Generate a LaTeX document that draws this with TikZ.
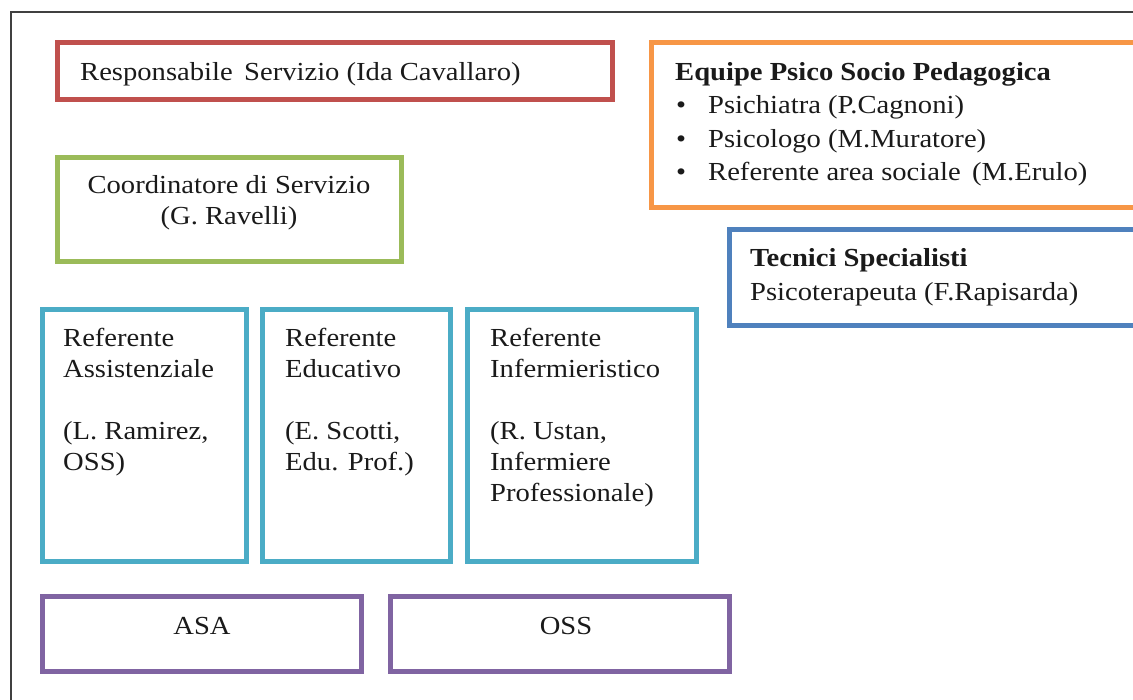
\documentclass[tikz,border=0pt]{standalone}
\usepackage{fontspec}
\setmainfont[FakeStretch=1.1]{Liberation Serif}
\definecolor{cred}{HTML}{C0504D}
\definecolor{corange}{HTML}{F79646}
\definecolor{cgreen}{HTML}{9BBB59}
\definecolor{cblue}{HTML}{4F81BD}
\definecolor{cteal}{HTML}{4BACC6}
\definecolor{cpurple}{HTML}{8064A2}
\definecolor{cframe}{HTML}{404040}
\definecolor{ctext}{HTML}{1A1A1A}
\tikzset{
  box/.style={draw=#1, line width=5pt},
  txt/.style={anchor=west, inner sep=0pt, align=left, text=ctext, font=\fontsize{26}{31}\selectfont},
  txtb/.style={txt, font=\fontsize{26}{34}\selectfont},
  ctxt/.style={anchor=center, inner sep=0pt, align=center, text=ctext, font=\fontsize{26}{31}\selectfont},
}
\begin{document}
\begin{tikzpicture}[x=1pt,y=-1pt]
\useasboundingbox (0,0) rectangle (1133,700);
\begin{scope}
\clip (0,0) rectangle (1133,700);
\draw[cframe, line width=2pt] (11,12) rectangle (1150,720);
% boxes
\draw[box=cred] (57.5,42.5) rectangle (612.5,99.5);
\draw[box=corange] (651.5,42.5) rectangle (1150,207.5);
\draw[box=cgreen] (57.5,157.5) rectangle (401,261.5);
\draw[box=cblue] (729.5,229.5) rectangle (1150,325.5);
\draw[box=cteal] (42.5,309.5) rectangle (246.5,561.5);
\draw[box=cteal] (262.5,309.5) rectangle (450.5,561.5);
\draw[box=cteal] (467.5,309.5) rectangle (696.5,561.5);
\draw[box=cpurple] (42.5,596.5) rectangle (361.5,671.5);
\draw[box=cpurple] (390.5,596.5) rectangle (729.5,671.5);
\end{scope}
% texts
\node[txt] (resp) at (80,74) {Responsabile\, Servizio (Ida Cavallaro)};
\node[ctxt] (coord) at (229,203) {Coordinatore di Servizio\\(G. Ravelli)};
\node[txt, font=\bfseries\fontsize{26}{34}\selectfont] (equipe) at (675,74) {Equipe Psico Socio Pedagogica};
\node[txtb] (eq1) at (676,107) {\textbullet\hspace{22pt}Psichiatra (P.Cagnoni)};
\node[txtb] (eq2) at (676,141) {\textbullet\hspace{22pt}Psicologo (M.Muratore)};
\node[txtb] (eq3) at (676,174) {\textbullet\hspace{22pt}Referente area sociale\, (M.Erulo)};
\node[txtb] (tec) at (750,277) {\textbf{Tecnici Specialisti}\\Psicoterapeuta (F.Rapisarda)};
\node[txt, anchor=north west] (ra) at (63,328) {Referente\\Assistenziale\\[31pt](L. Ramirez,\\OSS)};
\node[txt, anchor=north west] (re) at (285,328) {Referente\\Educativo\\[31pt](E. Scotti,\\Edu. Prof.)};
\node[txt, anchor=north west] (ri) at (490,328) {Referente\\Infermieristico\\[31pt](R. Ustan,\\Infermiere\\Professionale)};
\node[ctxt] (asa) at (202,626) {ASA};
\node[ctxt] (oss) at (566,626) {OSS};
\end{tikzpicture}
\end{document}
